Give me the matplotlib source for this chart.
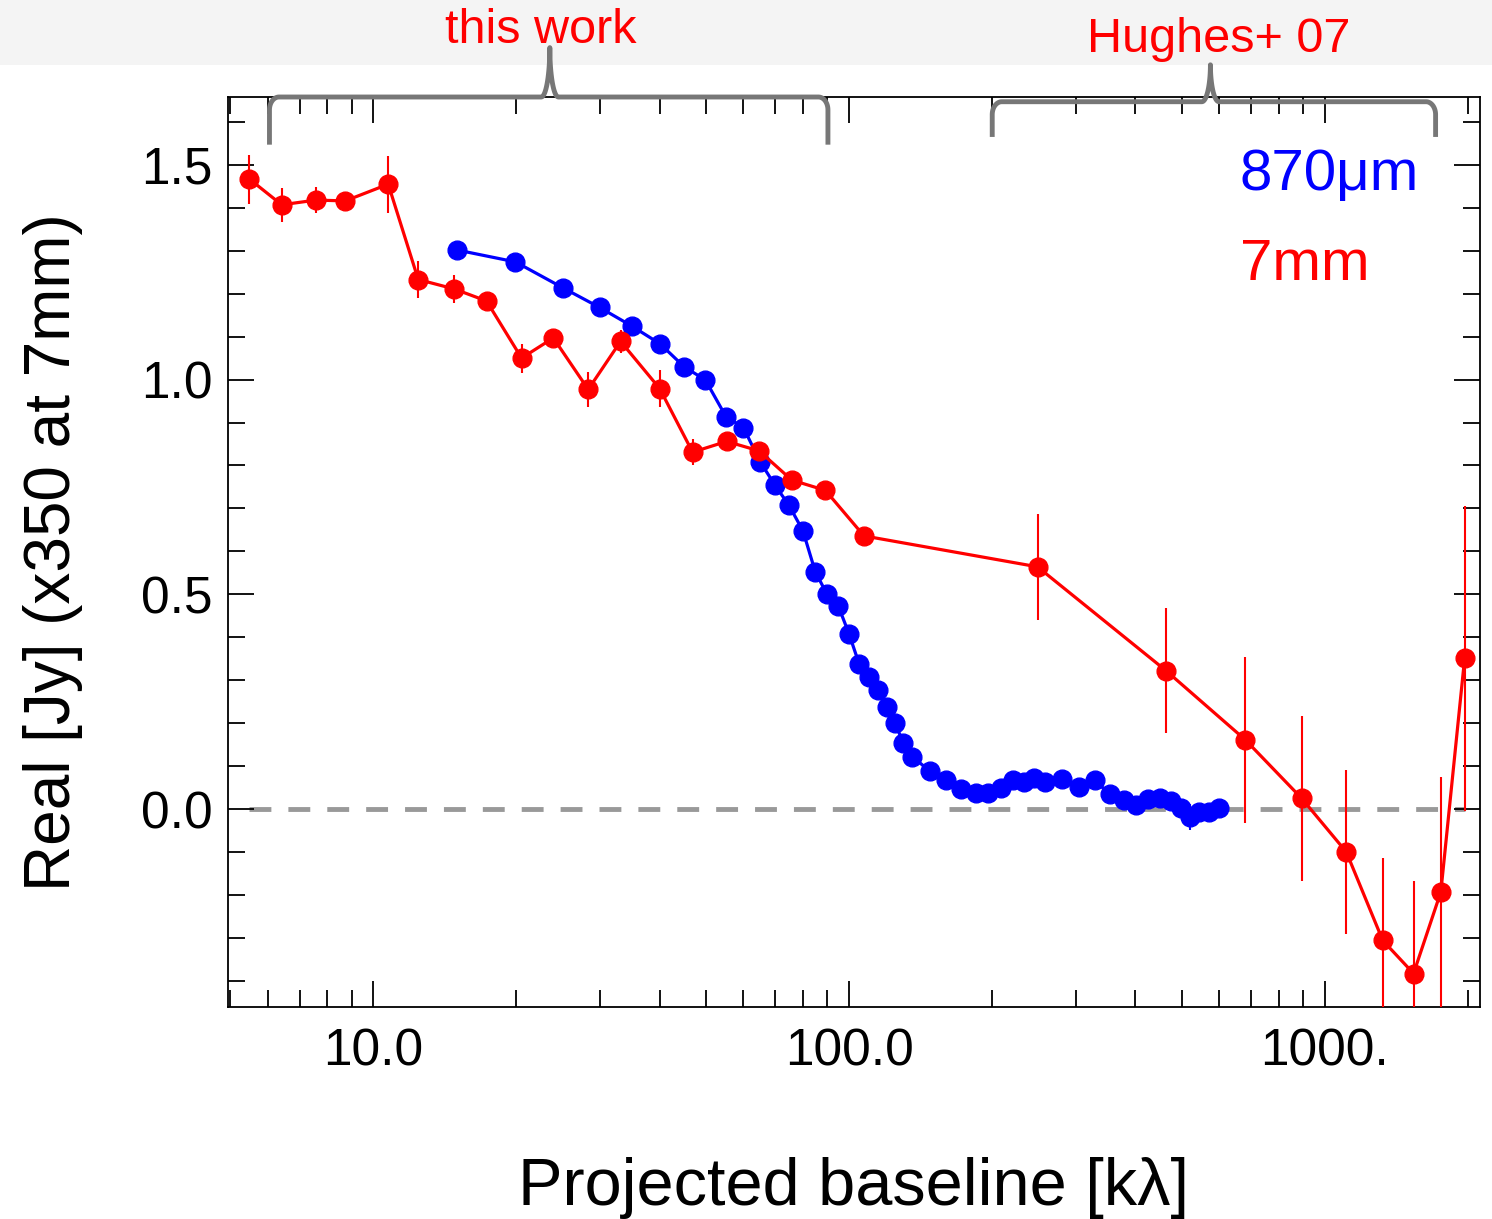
import matplotlib
matplotlib.use('Agg')
import matplotlib.pyplot as plt
import numpy as np
from matplotlib.patches import Rectangle
from matplotlib.ticker import LogLocator, NullFormatter, FixedLocator, MultipleLocator

plt.rcParams['font.family'] = ['Liberation Sans', 'DejaVu Sans']

# 7mm visibilities (this work + Hughes+ 07)
uv_7mm = [5.49, 6.42, 7.58, 8.73, 10.75, 12.43, 14.8, 17.3, 20.5, 23.9, 28.3, 33.1, 40.0, 46.9,
          55.3, 64.7, 75.8, 89.2, 107.5, 249, 464, 681, 894, 1110, 1324, 1537, 1754, 1968]
re_7mm = [1.467, 1.407, 1.418, 1.416, 1.455, 1.233, 1.211, 1.183, 1.050, 1.097, 0.977, 1.089, 0.979, 0.831,
          0.856, 0.834, 0.766, 0.742, 0.636, 0.564, 0.322, 0.161, 0.025, -0.100, -0.306, -0.383, -0.193, 0.351]
err_7mm = [0.057, 0.04, 0.03, 0.02, 0.066, 0.042, 0.033, 0.02, 0.034, 0.02, 0.04, 0.027, 0.044, 0.03,
           0.01, 0.01, 0.01, 0.01, 0.012, 0.124, 0.146, 0.194, 0.192, 0.19, 0.192, 0.216, 0.267, 0.355]

# 870 micron visibilities
uv_870 = [14.96, 19.9, 25.1, 29.9, 34.9, 40.1, 45.0, 49.9, 55.1, 60.0, 65.0, 69.9, 74.8, 80.0, 84.9,
          89.9, 95.0, 100, 105, 110, 115, 120, 125, 130, 135.8, 148, 160, 172, 184.5, 196, 209, 221,
          233, 245, 258, 280, 305, 329, 353, 378, 402, 425, 450, 476, 499, 522, 545, 570, 598]
re_870 = [1.302, 1.274, 1.213, 1.168, 1.125, 1.083, 1.030, 0.999, 0.914, 0.888, 0.809, 0.754, 0.707,
          0.648, 0.553, 0.500, 0.472, 0.408, 0.338, 0.308, 0.276, 0.238, 0.200, 0.154, 0.122, 0.088,
          0.068, 0.046, 0.037, 0.038, 0.049, 0.068, 0.062, 0.072, 0.062, 0.070, 0.051, 0.067, 0.034,
          0.022, 0.010, 0.024, 0.026, 0.018, 0.002, -0.018, -0.008, -0.006, 0.002]
err_870 = [0.004] * 44 + [0.01, 0.03, 0.02, 0.012, 0.02]

fig = plt.figure(figsize=(14.92, 12.19), dpi=100)
# light grey band along the top
fig.patches.append(Rectangle((0, 1 - 65 / 1219), 1, 65 / 1219, transform=fig.transFigure,
                             facecolor='#f4f4f4', edgecolor='none', zorder=-1))
ax = fig.add_axes([228 / 1492, 1 - 1007 / 1219, (1480 - 228) / 1492, (1007 - 97) / 1219])

ax.plot([min(uv_7mm), max(uv_7mm)], [0, 0], color='#999999', lw=3.5, ls=(0, (4.5, 3.5)), zorder=1)

ax.errorbar(uv_7mm, re_7mm, yerr=err_7mm, color='red', lw=2.3, elinewidth=1.5, capsize=0,
            marker='o', ms=13.5, zorder=3)
ax.errorbar(uv_870, re_870, yerr=err_870, color='blue', lw=2.3, elinewidth=1.5, capsize=0,
            marker='o', ms=13.5, zorder=2)

ax.set_xscale('log')
ax.set_xlim(4.95, 2120)
ax.set_ylim(-0.461, 1.658)

ax.xaxis.set_major_locator(FixedLocator([10, 100, 1000]))
ax.set_xticklabels(['10.0', '100.0', '1000.'])
ax.xaxis.set_minor_locator(LogLocator(base=10, subs=np.arange(2, 10)))
ax.xaxis.set_minor_formatter(NullFormatter())
ax.yaxis.set_major_locator(FixedLocator([0.0, 0.5, 1.0, 1.5]))
ax.set_yticklabels(['0.0', '0.5', '1.0', '1.5'])
ax.yaxis.set_minor_locator(MultipleLocator(0.1))

ax.tick_params(which='both', direction='in', top=True, right=True, width=1.3, labelsize=37)
ax.tick_params(which='major', length=19)
ax.tick_params(which='minor', length=12.5)
ax.tick_params(axis='x', which='major', pad=15)
ax.tick_params(axis='y', which='major', pad=11)
for s in ax.spines.values():
    s.set_linewidth(1.3)

ax.set_xlabel('Projected baseline [kλ]', fontsize=48, labelpad=58)
ax.set_ylabel('Real [Jy] (x350 at 7mm)', fontsize=46, labelpad=42)

ax.text(0.808, 0.898, '870μm', color='blue', fontsize=42, transform=ax.transAxes, va='baseline')
ax.text(0.808, 0.799, '7mm', color='red', fontsize=42, transform=ax.transAxes, va='baseline')


# curly braces marking the data sets
def brace(x0, x1, xm, y_end, y_h, y_tip, rx=0.02, ry=0.03, cw=0.018):
    l0, l1, lm = np.log10(x0), np.log10(x1), np.log10(xm)
    t = np.linspace(0, np.pi / 2, 20)
    px, py = [l0], [y_end]
    px += list(l0 + rx - rx * np.cos(t)); py += list(y_h - ry + ry * np.sin(t))
    px += list(lm - cw + cw * np.sin(t)); py += list(y_tip - (y_tip - y_h) * np.cos(t))
    px += list(lm + cw - cw * np.cos(t)); py += list(y_h + (y_tip - y_h) * (1 - np.sin(t)))
    px += list(l1 - rx + rx * np.sin(t)); py += list(y_h - ry + ry * np.cos(t))
    px += [l1]; py += [y_end]
    ax.plot(10 ** np.array(px), py, color='#777777', lw=3.5, clip_on=False, zorder=4,
            solid_capstyle='butt')


brace(6.05, 90.3, 23.5, 1.547, 1.658, 1.773)
brace(200, 1710, 575, 1.565, 1.647, 1.733)

ax.text(22.5, 1.784, 'this work', color='red', fontsize=35, ha='center', va='baseline')
ax.text(600, 1.763, 'Hughes+ 07', color='red', fontsize=35, ha='center', va='baseline')

fig.savefig('out.png', dpi=100)
